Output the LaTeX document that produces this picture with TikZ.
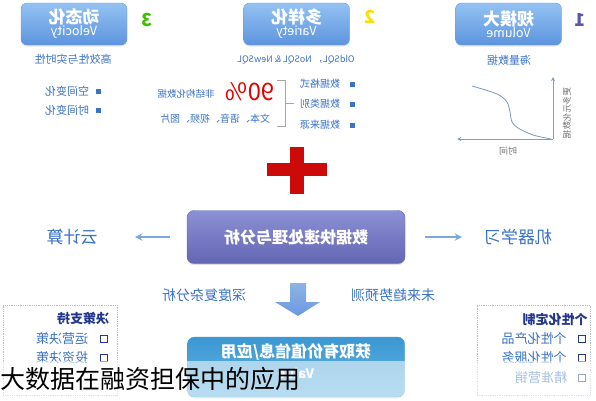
\documentclass[tikz,border=0pt]{standalone}
\usepackage{fontspec}
\setmainfont{Noto Sans CJK SC}
\usetikzlibrary{positioning,shadows}
\definecolor{kopfoben}{HTML}{94C2F2}
\definecolor{kopfunten}{HTML}{5C94DE}
\definecolor{kopfrand}{HTML}{6A9BDD}
\definecolor{blautext}{HTML}{3A72C4}
\definecolor{dunkelblau}{HTML}{23378C}
\definecolor{lila1}{HTML}{8C90D4}
\definecolor{lila2}{HTML}{6366B2}
\definecolor{pfeilblau}{HTML}{78A8DE}
\definecolor{wertoben}{HTML}{3C98D3}
\definecolor{wertunten}{HTML}{62B4E0}
\definecolor{kreuzrot}{HTML}{CC0A0A}
\definecolor{strich}{HTML}{B4BCD4}
\tikzstyle{mirr}=[xscale=-1]
\tikzstyle{kopf}=[mirr, draw=kopfrand, rounded corners=6pt, top color=kopfoben, bottom color=kopfunten,
  minimum width=106pt, minimum height=42pt, inner sep=0pt, text=white, align=center,
  drop shadow={opacity=0.2, shadow xshift=0pt, shadow yshift=-1.5pt}]
\tikzstyle{klein}=[mirr, text=blautext, inner sep=1pt]
\tikzstyle{punkt}=[fill=blautext, minimum size=5pt, inner sep=0pt]
\tikzstyle{kasten}=[draw=dunkelblau, line width=1.5pt, minimum size=7pt, inner sep=0pt]
\tikzstyle{eintrag}=[mirr, text=blautext, font=\fontsize{13}{15}\selectfont, inner sep=1pt]
\tikzstyle{strichbox}=[draw=strich, densely dotted, line width=0.8pt]
\tikzstyle{pfeil}=[draw=pfeilblau, line width=2.2pt, -stealth]

\begin{document}
\begin{tikzpicture}[x=1pt,y=-1pt]
			\useasboundingbox (0,0) rectangle (596,400);
			% Kopfkaesten
			\node[kopf] (volumen) at (508.5,24) {{\bfseries\fontsize{17}{19}\selectfont 规模大}\\{\fontsize{12.5}{14}\selectfont Volume}};
			\node[kopf] (vielfalt) at (296.5,24) {{\bfseries\fontsize{17}{19}\selectfont 多样化}\\{\fontsize{12.5}{14}\selectfont Variety}};
			\node[kopf] (tempo) at (74,24) {{\bfseries\fontsize{17}{19}\selectfont 动态化}\\{\fontsize{12.5}{14}\selectfont Velocity}};
			% Nummern
			\node[mirr, text=gray!70!blue, font=\bfseries\fontsize{18}{18}\selectfont] (nr1) at (580,20) {1};
			\node[mirr, text=yellow!80!orange, font=\bfseries\fontsize{18}{18}\selectfont] (nr2) at (370,17) {2};
			\node[mirr, text=green!50!olive, font=\bfseries\fontsize{18}{18}\selectfont] (nr3) at (147,20) {3};
			% Untertitel
			\node[klein, font=\fontsize{11}{13}\selectfont] (massen) at (509,60) {海量数据};
			\node[klein, font=\fontsize{9}{11}\selectfont] (sql) at (296,60) {OldSQL， NoSQL \& NewSQL};
			\node[klein, font=\fontsize{11}{13}\selectfont] (echtzeit) at (73,59) {高效性与实时性};
			% linke Spalte
			\foreach \t/\y [count=\i] in {空间变化/91, 时间变化/110} {
				\node[punkt] (lp\i) at (98,\y) {};
				\node[klein, font=\fontsize{11}{13}\selectfont] (lt\i) at (67,\y) {\t};
			}
			% mittlere Spalte
			\foreach \t/\y [count=\i] in {数据格式/84, 数据类别/104, 数据来源/125} {
				\node[punkt] (mp\i) at (352,\y) {};
				\node[klein, font=\fontsize{10}{12}\selectfont] (mt\i) at (320,\y) {\t};
			}
			\draw[gray!70, line width=0.8pt] (277,80) -- (285,80) -- (285,126) -- (277,126) (285,103) -- (294,103);
			\node[mirr, text=red!90!black, font=\fontsize{24}{24}\selectfont, inner sep=0pt] (prozent) at (250,92) {90\%};
			\node[klein, font=\fontsize{9.5}{11}\selectfont] (unstrukt) at (186,94) {非结构化数据};
			\node[klein, font=\fontsize{10}{12}\selectfont] (medien) at (215,119) {文本、语音、视频、图片};
			% Diagramm rechts
			\coordinate (ursprung) at (553,139);
			\coordinate (yspitze) at (553,77);
			\coordinate (xspitze) at (457,139);
			\draw[pfeilblau!80!gray, line width=0.9pt, -stealth] (ursprung) -- (yspitze);
			\draw[pfeilblau!80!gray, line width=0.9pt, -stealth] (ursprung) -- (xspitze);
			\draw[pfeilblau!60!gray, line width=0.8pt] plot[smooth] coordinates {(472,86) (497,94) (507,102) (510,112) (512,122) (518,128) (533,135) (551,139)};
			\node[mirr, rotate=-90, text=gray!90!black, font=\fontsize{8.5}{10}\selectfont, inner sep=1pt] (ylabel) at (567,113) {更多元化数据};
			\node[mirr, text=gray!90!black, font=\fontsize{9}{11}\selectfont, inner sep=1pt] (xlabel) at (508,151) {时间};
			% rotes Kreuz
			\fill[kreuzrot] (290,147) rectangle (304,194);
			\fill[kreuzrot] (267,163) rectangle (327,176);
			% Verarbeitung
			\node[mirr, rounded corners=7pt, top color=lila1, bottom color=lila2, draw=lila2,
				minimum width=218pt, minimum height=53pt, text=white,
				font=\bfseries\fontsize{16}{18}\selectfont,
				drop shadow={opacity=0.25, shadow xshift=0pt, shadow yshift=-1.5pt}] (proc) at (296,237) {数据快速处理与分析};
			\node[mirr, text=blautext, font=\fontsize{17}{19}\selectfont] (wolke) at (72,237) {云计算};
			\node[mirr, text=blautext, font=\fontsize{17}{19}\selectfont] (lernen) at (518,237) {机器学习};
			\draw[pfeil, shorten <=126pt, shorten >=63pt] (proc.center) -- (wolke.center);
			\draw[pfeil, shorten <=129pt, shorten >=56pt] (proc.center) -- (lernen.center);
			% Pfeil nach unten
			\shade[top color=pfeilblau!85!white, bottom color=pfeilblau!90!blue]
				(290,283) -- (306,283) -- (306,302) -- (320,302) -- (298,316) -- (275,302) -- (290,302) -- cycle;
			\node[klein, font=\fontsize{14}{16}\selectfont] (tiefe) at (204,295) {深度复杂分析};
			\node[klein, font=\fontsize{14}{16}\selectfont] (trend) at (393,295) {未来趋势预测};
			% Wert
			\node[mirr, rounded corners=7pt, top color=wertoben, bottom color=wertunten, draw=wertoben,
				minimum width=217pt, minimum height=60pt,
				drop shadow={opacity=0.25, shadow xshift=0pt, shadow yshift=-1.5pt}] (wert) at (296,367) {};
			\node[mirr, text=white, font=\bfseries\fontsize{16}{18}\selectfont, inner sep=0pt] (werttitel) at (296,352) {获取有价值信息/应用};
			\node[mirr, text=white, font=\bfseries\fontsize{13}{15}\selectfont, inner sep=0pt] (wertname) at (296,373) {Value};
			% Kaesten unten
			\node[strichbox, minimum width=114pt, minimum height=90pt] (entsch) at (60,350) {};
			\node[mirr, text=dunkelblau, font=\bfseries\fontsize{13}{15}\selectfont] (entschtitel) at (83,319) {决策支持};
			\foreach \t/\y [count=\i] in {运营决策/339, 投资决策/358} {
				\node[kasten] (lq\i) at (104,\y) {};
				\node[eintrag] (le\i) at (62,\y) {\t};
			}
			\node[strichbox, minimum width=113pt, minimum height=90pt] (indiv) at (533.5,350) {};
			\node[mirr, text=dunkelblau, font=\bfseries\fontsize{13}{15}\selectfont] (indivtitel) at (555,319) {个性化定制};
			\foreach \t/\x/\y [count=\i] in {个性化产品/534/339, 个性化服务/534/358, 精准营销/541/378} {
				\node[kasten] (rq\i) at (582,\y) {};
				\node[eintrag] (re\i) at (\x,\y) {\t};
			}
			% Bildunterschrift
			\fill[white, opacity=0.55] (0,361) rectangle (596,400);
			\node[anchor=west, inner sep=0pt, font=\fontsize{25}{25}\selectfont] (unterschrift) at (0,379) {大数据在融资担保中的应用};
		\end{tikzpicture}
\end{document}
